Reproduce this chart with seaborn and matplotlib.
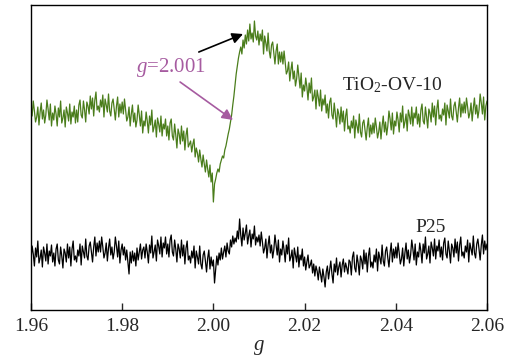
"""EPR spectra of TiO2-OV-10 and P25"""
import numpy as np
import pandas as pd
import matplotlib
matplotlib.use("Agg")
import matplotlib.pyplot as plt
import seaborn as sns

# g grid of the spectra
g_start, g_stop, g_step = 1.96, 2.06, 0.00025

# TiO2-OV-10 intensity (a.u.), 20 points per 0.005 of g
tio2_ov10 = [
    205, 194, 209, 199, 188, 193, 203, 185, 198, 207, 191, 200, 187, 195, 210, 201, 190, 206, 184, 197,
    190, 204, 196, 184, 202, 193, 209, 187, 192, 200, 183, 203, 197, 189, 206, 186, 198, 193, 204, 187,
    200, 188, 205, 210, 195, 192, 209, 200, 188, 208, 204, 196, 214, 201, 212, 194, 210, 218, 200, 204,
    198, 210, 203, 215, 193, 211, 205, 198, 216, 199, 194, 207, 211, 201, 190, 204, 213, 193, 206, 197,
    208, 196, 211, 200, 189, 193, 203, 184, 196, 205, 188, 197, 183, 190, 205, 195, 184, 199, 177, 189,
    184, 198, 189, 177, 194, 185, 200, 178, 183, 190, 173, 192, 186, 178, 194, 174, 186, 181, 191, 174,
    184, 170, 187, 191, 174, 170, 186, 175, 162, 181, 176, 166, 184, 169, 179, 160, 175, 182, 163, 166,
    169, 158, 166, 171, 153, 162, 157, 148, 160, 151, 143, 155, 146, 138, 150, 141, 133, 145, 128, 137,
    108, 126, 131, 137, 141, 138, 146, 150, 154, 152, 160, 164, 170, 176, 181, 188, 195, 205, 214, 225,
    236, 244, 252, 258, 263, 256, 270, 262, 275, 266, 280, 269, 286, 271, 277, 268, 289, 274, 270, 279,
    265, 276, 269, 280, 256, 274, 267, 259, 277, 259, 252, 265, 268, 257, 246, 259, 266, 246, 258, 248,
    258, 246, 259, 248, 236, 239, 248, 229, 240, 248, 231, 239, 224, 231, 245, 234, 222, 237, 213, 225,
    219, 232, 223, 210, 227, 217, 232, 209, 213, 220, 201, 220, 213, 204, 220, 199, 211, 205, 215, 197,
    206, 192, 208, 212, 195, 191, 207, 196, 183, 201, 196, 186, 203, 188, 199, 179, 194, 201, 181, 184,
    177, 189, 182, 194, 172, 190, 184, 177, 196, 178, 173, 187, 190, 180, 170, 183, 192, 173, 185, 176,
    187, 177, 192, 183, 172, 178, 188, 171, 184, 194, 178, 188, 175, 184, 199, 191, 180, 197, 176, 189,
    184, 198, 190, 178, 197, 188, 204, 182, 188, 196, 179, 200, 194, 186, 203, 184, 197, 192, 203, 186,
    196, 183, 200, 206, 189, 186, 203, 193, 182, 201, 197, 188, 207, 193, 204, 185, 201, 210, 191, 195,
    189, 201, 195, 207, 185, 205, 199, 192, 211, 194, 190, 204, 208, 198, 188, 202, 212, 193, 206, 197,
    208, 197, 212, 203, 192, 197, 207, 189, 202, 212, 196, 205, 192, 200, 216, 207, 196, 213, 190, 204, 209,
]

# P25 intensity (a.u.)
p25 = [
    50, 64, 56, 44, 62, 53, 69, 47, 52, 60, 43, 63, 57, 49, 66, 46, 59, 54, 65, 48,
    57, 44, 61, 66, 50, 46, 63, 54, 42, 61, 57, 48, 66, 52, 63, 44, 61, 69, 50, 54,
    48, 60, 54, 66, 45, 64, 58, 52, 71, 54, 50, 64, 68, 58, 48, 63, 73, 54, 67, 58,
    69, 58, 73, 63, 52, 57, 67, 49, 62, 71, 55, 63, 51, 58, 73, 64, 53, 69, 47, 60,
    66, 55, 63, 50, 60, 48, 36, 58, 47, 59, 49, 57, 44, 62, 50, 58, 66, 51, 60, 63,
    52, 66, 58, 47, 65, 57, 74, 52, 58, 65, 49, 70, 64, 56, 73, 53, 67, 62, 73, 56,
    66, 53, 70, 75, 58, 54, 70, 61, 48, 66, 61, 52, 70, 54, 65, 46, 62, 69, 50, 54,
    47, 59, 52, 64, 42, 59, 53, 46, 64, 46, 41, 55, 59, 49, 38, 52, 60, 41, 53, 44,
    50, 27, 41, 54, 45, 57, 50, 62, 51, 58, 64, 53, 67, 59, 56, 70, 63, 74, 66, 72,
    68, 79, 71, 91, 75, 64, 82, 70, 77, 85, 66, 74, 80, 63, 76, 71, 84, 65, 73, 68,
    75, 64, 78, 68, 57, 62, 71, 52, 65, 74, 57, 65, 52, 60, 75, 65, 55, 70, 48, 61,
    55, 69, 60, 48, 65, 56, 72, 49, 53, 60, 42, 62, 55, 48, 63, 43, 55, 50, 61, 44,
    53, 40, 48, 55, 42, 45, 50, 37, 46, 34, 44, 39, 30, 43, 36, 28, 41, 33, 23, 38,
    44, 31, 40, 49, 36, 27, 46, 38, 52, 35, 43, 48, 33, 45, 51, 38, 47, 42, 36, 50,
    48, 35, 53, 58, 42, 38, 55, 47, 35, 54, 50, 41, 60, 46, 57, 38, 54, 62, 43, 48,
    42, 55, 48, 61, 39, 58, 52, 46, 65, 49, 44, 59, 63, 52, 43, 57, 67, 48, 61, 52,
    63, 52, 67, 57, 46, 51, 62, 44, 57, 67, 51, 60, 47, 55, 70, 61, 50, 66, 45, 58,
    53, 67, 59, 47, 66, 57, 73, 51, 56, 64, 47, 68, 62, 54, 71, 51, 64, 59, 70, 53,
    63, 50, 67, 72, 56, 52, 69, 59, 47, 66, 62, 53, 71, 57, 68, 49, 65, 73, 54, 58,
    52, 64, 58, 70, 48, 67, 61, 55, 74, 57, 52, 66, 71, 61, 50, 65, 75, 56, 69, 60, 66,
]

g_ticks = [1.96, 1.98, 2.00, 2.02, 2.04, 2.06]

g = np.round(np.arange(len(p25)) * g_step + g_start, 5)
df = pd.DataFrame({"g": g, "TiO2-OV-10": tio2_ov10, "P25": p25})

sns.set_style("ticks")
plt.rcParams["font.family"] = ["Liberation Serif", "DejaVu Serif"]
plt.rcParams["mathtext.fontset"] = "custom"
plt.rcParams["mathtext.rm"] = "Liberation Serif"
plt.rcParams["mathtext.it"] = "Liberation Serif:italic"

green = "#4a7d1b"
purple = "#a65ba0"

fig = plt.figure(figsize=(5.13, 3.58), dpi=100)
ax = fig.add_axes([0.0604, 0.1341, 0.8889, 0.8519])

sns.lineplot(data=df, x="g", y="TiO2-OV-10", ax=ax, color=green, lw=0.9)
sns.lineplot(data=df, x="g", y="P25", ax=ax, color="black", lw=0.9)

ax.set_xlim(g_start, g_stop)
ax.set_ylim(0, 305)
ax.set_xticks(g_ticks)
ax.set_xticklabels([f"{t:.2f}" for t in g_ticks], fontsize=14)
ax.set_yticks([])
ax.tick_params(axis="x", direction="in", length=5, width=1, pad=6)
ax.set_xlabel("$g$", fontsize=15, labelpad=2)
ax.set_ylabel("")
for sp in ax.spines.values():
    sp.set_linewidth(1.0)
    sp.set_color("black")

# annotations
ax.annotate("", xy=(2.0043, 190), xytext=(1.9927, 228),
            arrowprops=dict(arrowstyle="-|>", color=purple, lw=1.2, mutation_scale=16,
                            shrinkA=0, shrinkB=0))
ax.annotate("", xy=(2.0065, 276), xytext=(1.9968, 258),
            arrowprops=dict(arrowstyle="-|>", color="black", lw=1.2, mutation_scale=16,
                            shrinkA=0, shrinkB=0))
ax.text(1.9907, 243, "$g$=2.001", color=purple, fontsize=15, ha="center", va="center")
ax.text(2.0282, 220, "TiO$_2$-OV-10", fontsize=14, ha="left", va="baseline")
ax.text(2.0442, 78, "P25", fontsize=14, ha="left", va="baseline")

fig.savefig("out.png", dpi=100)
